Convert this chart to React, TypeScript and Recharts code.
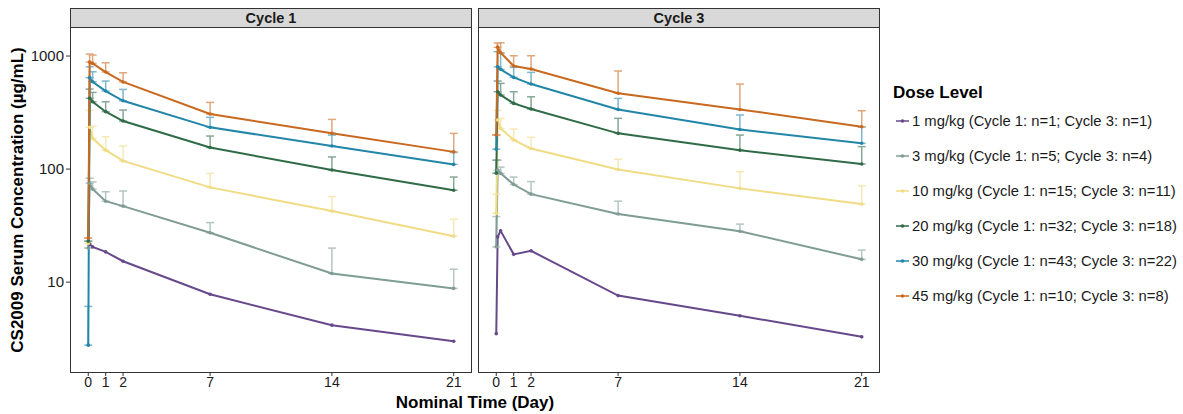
import React from 'react';
import { LineChart, Line, XAxis, YAxis, ErrorBar } from 'recharts';

// nominal sampling times (days); the first three sit on top of each other near 0
const TIMES = [0, 0.08, 0.25, 1, 2, 7, 14, 21];
const X_TICKS = [0, 1, 2, 7, 14, 21];
const Y_TICKS = [10, 100, 1000];

const DOSES = ['1 mg/kg', '3 mg/kg', '10 mg/kg', '20 mg/kg', '30 mg/kg', '45 mg/kg'];
const N_CYCLE1 = [1, 5, 15, 32, 43, 10];
const N_CYCLE3 = [1, 4, 11, 18, 22, 8];
const COLORS = ['#67498b', '#7f9c95', '#f0dc85', '#2f6b47', '#2186a8', '#c9681f'];
const ERR_COLORS = ['#a796bd', '#b3c6c1', '#f6e9b6', '#86a894', '#7cb7cb', '#e0a77b'];

// Cycle 1 means / mean+SD
const c1Mean1 = [null, 21.7, 20.5, 18.5, 15.3, 7.8, 4.16, 3.0];
const c1Mean3 = [20, 75, 66.5, 52, 47, 27.3, 11.9, 8.8];
const c1Up3 = [null, 83, 77, 63, 64, 33.6, 20, 13];
const c1Mean10 = [22, 234, 187, 147, 118, 68.9, 42.5, 25.5];
const c1Up10 = [null, 330, 240, 193, 160, 91.6, 57, 36];
const c1Mean20 = [23, 423, 394, 322, 266, 155, 98, 65];
const c1Up20 = [null, 510, 477, 394, 333, 196, 128, 85];
const c1Mean30 = [2.77, 643, 592, 490, 402, 234, 160, 110];
const c1Up30 = [6.1, 804, 726, 601, 507, 287, 200, 140];
const c1Mean45 = [24.5, 885, 860, 722, 590, 307, 207, 142];
const c1Up45 = [null, 1041, 1021, 872, 711, 389, 275, 207];

// Cycle 3 means / mean+SD
const c3Mean1 = [3.5, 25.2, 28.4, 17.6, 18.9, 7.6, 5.04, 3.28];
const c3Mean3 = [20.5, 98, 91.6, 73, 60, 40, 28.2, 15.9];
const c3Up3 = [38, 120, 104, 85, 77.5, 52, 32.6, 19.2];
const c3Mean10 = [40.6, 272, 229, 181, 152, 99, 67.5, 49];
const c3Up10 = [60, 330, 281, 226, 191, 122, 94.7, 71];
const c3Mean20 = [92, 483, 452, 381, 340, 207, 147, 111];
const c3Up20 = [120, 601, 573, 483, 436, 281, 200, 158];
const c3Mean30 = [150, 804, 763, 647, 565, 337, 224, 169];
const c3Up30 = [200, 1092, 1056, 794, 717, 422, 301, 235];
const c3Mean45 = [200, 1194, 1070, 816, 767, 468, 337, 237];
const c3Up45 = [null, 1303, 1310, 1006, 1006, 737, 565, 328];

const cycle1 = [
  [c1Mean1, null],
  [c1Mean3, c1Up3],
  [c1Mean10, c1Up10],
  [c1Mean20, c1Up20],
  [c1Mean30, c1Up30],
  [c1Mean45, c1Up45],
];
const cycle3 = [
  [c3Mean1, null],
  [c3Mean3, c3Up3],
  [c3Mean10, c3Up10],
  [c3Mean20, c3Up20],
  [c3Mean30, c3Up30],
  [c3Mean45, c3Up45],
];

const FONT = 'Arial, "Liberation Sans", Helvetica, sans-serif';
const Y_DOMAIN = [1.57, 1807];
const X_DOMAIN = [-1.05, 22.05];

function toRows(mean: (number | null)[], up: (number | null)[] | null) {
  const rows: any[] = [];
  TIMES.forEach((t, i) => {
    const v = mean[i];
    if (v == null) return;
    const u = up ? up[i] : null;
    rows.push({ t, v, err: [0, u != null ? u - v : 0] });
  });
  return rows;
}

function Panel({ series, showY }: { series: any[]; showY: boolean }) {
  return (
    <LineChart
      width={showY ? 480 : 402}
      height={414}
      margin={{ top: 27, right: showY ? 8 : 0, bottom: 0, left: 0 }}
    >
      <XAxis
        type="number"
        dataKey="t"
        domain={X_DOMAIN}
        allowDataOverflow
        ticks={X_TICKS}
        interval={0}
        height={41}
        axisLine={false}
        tickSize={3}
        tickMargin={1}
        tickLine={{ stroke: '#333' }}
        tick={{ fontSize: 14, fill: '#1a1a1a', fontFamily: FONT }}
      />
      <YAxis
        scale="log"
        domain={Y_DOMAIN}
        allowDataOverflow
        ticks={Y_TICKS}
        width={70}
        hide={!showY}
        axisLine={false}
        tickSize={4}
        tickLine={{ stroke: '#333' }}
        tick={{ fontSize: 15, fill: '#1a1a1a', fontFamily: FONT }}
      />
      {series.map(([mean, up], i) => (
        <Line
          key={DOSES[i]}
          data={toRows(mean, up)}
          dataKey="v"
          stroke={COLORS[i]}
          strokeWidth={2}
          dot={{ r: 1.8, fill: COLORS[i], stroke: COLORS[i], strokeWidth: 0 }}
          isAnimationActive={false}
        >
          {up && (
            <ErrorBar
              dataKey="err"
              direction="y"
              width={4}
              stroke={ERR_COLORS[i]}
              strokeWidth={1.5}
              isAnimationActive={false}
            />
          )}
        </Line>
      ))}
    </LineChart>
  );
}

const stripStyle: React.CSSProperties = {
  position: 'absolute',
  top: 8,
  width: 402,
  height: 19,
  boxSizing: 'border-box',
  background: '#d9d9d9',
  border: '1px solid #333',
  borderBottom: 'none',
  fontFamily: FONT,
  fontWeight: 'bold',
  fontSize: 14.5,
  lineHeight: '18px',
  textAlign: 'center',
  color: '#1a1a1a',
};

const frameStyle: React.CSSProperties = {
  position: 'absolute',
  top: 27,
  width: 402,
  height: 346,
  boxSizing: 'border-box',
  border: '1.5px solid #333',
  pointerEvents: 'none',
};

export default function App() {
  return (
    <div
      style={{
        position: 'absolute',
        left: 0,
        top: 0,
        width: 1183,
        height: 414,
        background: '#fff',
        fontFamily: FONT,
        overflow: 'hidden',
      }}
    >
      <div style={{ position: 'absolute', left: 0, top: 0 }}>
        <Panel series={cycle1} showY />
      </div>
      <div style={{ position: 'absolute', left: 478, top: 0 }}>
        <Panel series={cycle3} showY={false} />
      </div>

      <div style={{ ...stripStyle, left: 70 }}>Cycle 1</div>
      <div style={{ ...stripStyle, left: 478 }}>Cycle 3</div>
      <div style={{ ...frameStyle, left: 70 }} />
      <div style={{ ...frameStyle, left: 478 }} />

      <div
        style={{
          position: 'absolute',
          left: 18,
          top: 200,
          transform: 'translate(-50%, -50%) rotate(-90deg)',
          whiteSpace: 'nowrap',
          fontWeight: 'bold',
          fontSize: 17,
          color: '#000',
        }}
      >
        CS2009 Serum Concentration (µg/mL)
      </div>
      <div
        style={{
          position: 'absolute',
          left: 475,
          top: 402,
          transform: 'translate(-50%, -50%)',
          whiteSpace: 'nowrap',
          fontWeight: 'bold',
          fontSize: 17,
          lineHeight: '19px',
          color: '#000',
        }}
      >
        Nominal Time (Day)
      </div>

      <div style={{ position: 'absolute', left: 893, top: 83 }}>
        <div style={{ fontWeight: 'bold', fontSize: 17, lineHeight: '20px', color: '#000' }}>
          Dose Level
        </div>
        {DOSES.map((d, i) => (
          <div
            key={d}
            style={{ display: 'flex', alignItems: 'center', height: 35, fontSize: 14.8, color: '#1a1a1a' }}
          >
            <svg width={19} height={12}>
              <line x1={3} x2={16} y1={6} y2={6} stroke={COLORS[i]} strokeWidth={1.5} />
              <circle cx={9.5} cy={6} r={1.8} fill={COLORS[i]} />
            </svg>
            <span>
              {d} (Cycle 1: n={N_CYCLE1[i]}; Cycle 3: n={N_CYCLE3[i]})
            </span>
          </div>
        ))}
      </div>
    </div>
  );
}
